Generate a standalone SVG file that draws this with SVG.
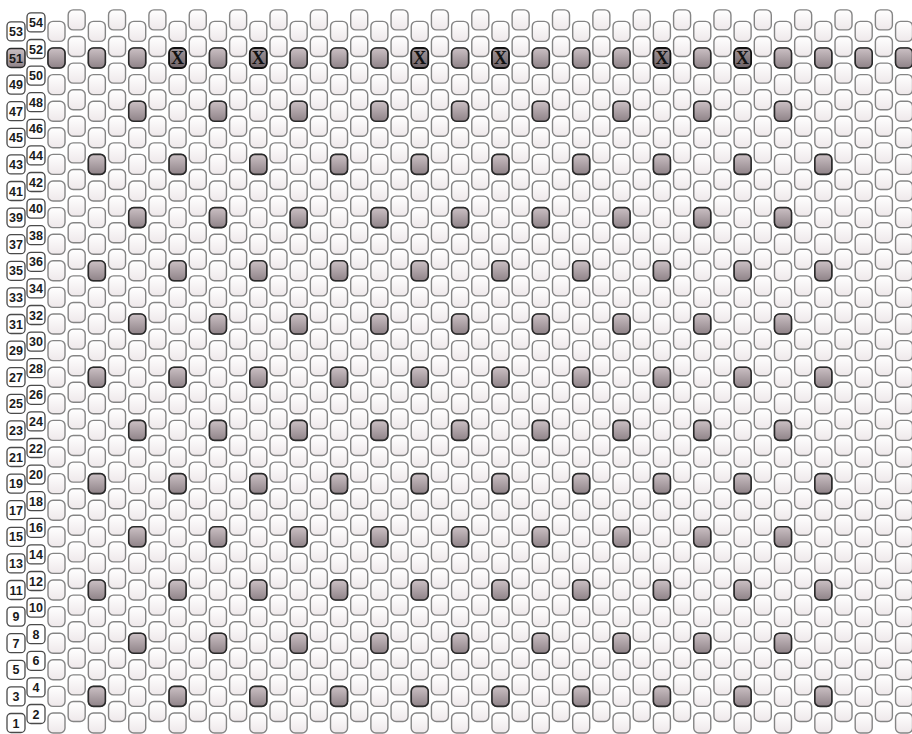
<svg xmlns="http://www.w3.org/2000/svg" xmlns:xlink="http://www.w3.org/1999/xlink" width="912" height="734" viewBox="0 0 912 734">
<style>
.bd{fill:url(#gl);stroke:#858585;stroke-width:1.4}
.dk{fill:url(#gd);stroke:#2a2a2a;stroke-width:1.6}
.xk{fill:url(#gx);stroke:#111;stroke-width:1.8}
.xt{font-family:"Liberation Serif","DejaVu Serif",serif;font-weight:bold;font-size:18px;fill:#111;text-anchor:middle}
.lb{fill:#fff;stroke:#4a4a4a;stroke-width:1.3}
.lbd{fill:url(#gd);stroke:#2a2a2a;stroke-width:1.5}
.lt{font-family:"Liberation Sans","DejaVu Sans",sans-serif;font-weight:bold;font-size:12.5px;fill:#1a1a1a;text-anchor:middle}
</style>
<defs>
<linearGradient id="gl" x1="0" y1="0" x2="0" y2="1"><stop offset="0" stop-color="#ffffff"/><stop offset="1" stop-color="#eee8ea"/></linearGradient>
<linearGradient id="gd" x1="0" y1="0" x2="0" y2="1"><stop offset="0" stop-color="#cbc0c4"/><stop offset="1" stop-color="#8f8388"/></linearGradient>
<linearGradient id="gx" x1="0" y1="0" x2="0" y2="1"><stop offset="0" stop-color="#a3989c"/><stop offset="1" stop-color="#6c6165"/></linearGradient>
<rect id="b" class="bd" x="-8.5" y="-10" width="17" height="20" rx="5"/>
<rect id="d" class="dk" x="-8.5" y="-10" width="17" height="20" rx="5"/>
<g id="x"><rect class="xk" x="-8.5" y="-10" width="17" height="20" rx="5"/><text class="xt" y="6.2">X</text></g>
<rect id="lbox" class="lb" x="-9" y="-9.5" width="18" height="19" rx="4"/>
<g id="col">
<use href="#b" y="0"/><use href="#b" y="26.6"/><use href="#b" y="53.2"/><use href="#b" y="79.8"/><use href="#b" y="106.4"/><use href="#b" y="133"/><use href="#b" y="159.6"/><use href="#b" y="186.2"/><use href="#b" y="212.8"/><use href="#b" y="239.4"/><use href="#b" y="266"/><use href="#b" y="292.6"/><use href="#b" y="319.2"/><use href="#b" y="345.8"/><use href="#b" y="372.4"/><use href="#b" y="399"/><use href="#b" y="425.6"/><use href="#b" y="452.2"/><use href="#b" y="478.8"/><use href="#b" y="505.4"/><use href="#b" y="532"/><use href="#b" y="558.6"/><use href="#b" y="585.2"/><use href="#b" y="611.8"/><use href="#b" y="638.4"/><use href="#b" y="665"/><use href="#b" y="691.6"/>
</g>
<g id="la">
<use href="#d" x="96.86"/><use href="#d" x="177.58"/><use href="#d" x="258.3"/><use href="#d" x="339.02"/><use href="#d" x="419.74"/><use href="#d" x="500.46"/><use href="#d" x="581.18"/><use href="#d" x="661.9"/><use href="#d" x="742.62"/><use href="#d" x="823.34"/>
</g>
<g id="lbr">
<use href="#d" x="137.22"/><use href="#d" x="217.94"/><use href="#d" x="298.66"/><use href="#d" x="379.38"/><use href="#d" x="460.1"/><use href="#d" x="540.82"/><use href="#d" x="621.54"/><use href="#d" x="702.26"/><use href="#d" x="782.98"/>
</g>
</defs>
<rect width="912" height="734" fill="#ffffff"/>

<g id="row-labels">
<g transform="translate(16,723)"><use href="#lbox"/><text class="lt" y="4.5">1</text></g>
<g transform="translate(16,696.4)"><use href="#lbox"/><text class="lt" y="4.5">3</text></g>
<g transform="translate(16,669.8)"><use href="#lbox"/><text class="lt" y="4.5">5</text></g>
<g transform="translate(16,643.2)"><use href="#lbox"/><text class="lt" y="4.5">7</text></g>
<g transform="translate(16,616.6)"><use href="#lbox"/><text class="lt" y="4.5">9</text></g>
<g transform="translate(16,590)"><use href="#lbox"/><text class="lt" y="4.5">11</text></g>
<g transform="translate(16,563.4)"><use href="#lbox"/><text class="lt" y="4.5">13</text></g>
<g transform="translate(16,536.8)"><use href="#lbox"/><text class="lt" y="4.5">15</text></g>
<g transform="translate(16,510.2)"><use href="#lbox"/><text class="lt" y="4.5">17</text></g>
<g transform="translate(16,483.6)"><use href="#lbox"/><text class="lt" y="4.5">19</text></g>
<g transform="translate(16,457)"><use href="#lbox"/><text class="lt" y="4.5">21</text></g>
<g transform="translate(16,430.4)"><use href="#lbox"/><text class="lt" y="4.5">23</text></g>
<g transform="translate(16,403.8)"><use href="#lbox"/><text class="lt" y="4.5">25</text></g>
<g transform="translate(16,377.2)"><use href="#lbox"/><text class="lt" y="4.5">27</text></g>
<g transform="translate(16,350.6)"><use href="#lbox"/><text class="lt" y="4.5">29</text></g>
<g transform="translate(16,324)"><use href="#lbox"/><text class="lt" y="4.5">31</text></g>
<g transform="translate(16,297.4)"><use href="#lbox"/><text class="lt" y="4.5">33</text></g>
<g transform="translate(16,270.8)"><use href="#lbox"/><text class="lt" y="4.5">35</text></g>
<g transform="translate(16,244.2)"><use href="#lbox"/><text class="lt" y="4.5">37</text></g>
<g transform="translate(16,217.6)"><use href="#lbox"/><text class="lt" y="4.5">39</text></g>
<g transform="translate(16,191)"><use href="#lbox"/><text class="lt" y="4.5">41</text></g>
<g transform="translate(16,164.4)"><use href="#lbox"/><text class="lt" y="4.5">43</text></g>
<g transform="translate(16,137.8)"><use href="#lbox"/><text class="lt" y="4.5">45</text></g>
<g transform="translate(16,111.2)"><use href="#lbox"/><text class="lt" y="4.5">47</text></g>
<g transform="translate(16,84.6)"><use href="#lbox"/><text class="lt" y="4.5">49</text></g>
<g transform="translate(16,58)"><rect class="lbd" x="-9" y="-9.5" width="18" height="19" rx="4"/><text class="lt" y="4.5">51</text></g>
<g transform="translate(16,31.4)"><use href="#lbox"/><text class="lt" y="4.5">53</text></g>
<g transform="translate(36,714)"><use href="#lbox"/><text class="lt" y="4.5">2</text></g>
<g transform="translate(36,687.4)"><use href="#lbox"/><text class="lt" y="4.5">4</text></g>
<g transform="translate(36,660.8)"><use href="#lbox"/><text class="lt" y="4.5">6</text></g>
<g transform="translate(36,634.2)"><use href="#lbox"/><text class="lt" y="4.5">8</text></g>
<g transform="translate(36,607.6)"><use href="#lbox"/><text class="lt" y="4.5">10</text></g>
<g transform="translate(36,581)"><use href="#lbox"/><text class="lt" y="4.5">12</text></g>
<g transform="translate(36,554.4)"><use href="#lbox"/><text class="lt" y="4.5">14</text></g>
<g transform="translate(36,527.8)"><use href="#lbox"/><text class="lt" y="4.5">16</text></g>
<g transform="translate(36,501.2)"><use href="#lbox"/><text class="lt" y="4.5">18</text></g>
<g transform="translate(36,474.6)"><use href="#lbox"/><text class="lt" y="4.5">20</text></g>
<g transform="translate(36,448)"><use href="#lbox"/><text class="lt" y="4.5">22</text></g>
<g transform="translate(36,421.4)"><use href="#lbox"/><text class="lt" y="4.5">24</text></g>
<g transform="translate(36,394.8)"><use href="#lbox"/><text class="lt" y="4.5">26</text></g>
<g transform="translate(36,368.2)"><use href="#lbox"/><text class="lt" y="4.5">28</text></g>
<g transform="translate(36,341.6)"><use href="#lbox"/><text class="lt" y="4.5">30</text></g>
<g transform="translate(36,315)"><use href="#lbox"/><text class="lt" y="4.5">32</text></g>
<g transform="translate(36,288.4)"><use href="#lbox"/><text class="lt" y="4.5">34</text></g>
<g transform="translate(36,261.8)"><use href="#lbox"/><text class="lt" y="4.5">36</text></g>
<g transform="translate(36,235.2)"><use href="#lbox"/><text class="lt" y="4.5">38</text></g>
<g transform="translate(36,208.6)"><use href="#lbox"/><text class="lt" y="4.5">40</text></g>
<g transform="translate(36,182)"><use href="#lbox"/><text class="lt" y="4.5">42</text></g>
<g transform="translate(36,155.4)"><use href="#lbox"/><text class="lt" y="4.5">44</text></g>
<g transform="translate(36,128.8)"><use href="#lbox"/><text class="lt" y="4.5">46</text></g>
<g transform="translate(36,102.2)"><use href="#lbox"/><text class="lt" y="4.5">48</text></g>
<g transform="translate(36,75.6)"><use href="#lbox"/><text class="lt" y="4.5">50</text></g>
<g transform="translate(36,49)"><use href="#lbox"/><text class="lt" y="4.5">52</text></g>
<g transform="translate(36,22.4)"><use href="#lbox"/><text class="lt" y="4.5">54</text></g>
</g>

<g id="bead-grid">
<use href="#col" x="56.5" y="31.4"/><use href="#col" x="76.68" y="19.9"/>
<use href="#col" x="96.86" y="31.4"/><use href="#col" x="117.04" y="19.9"/>
<use href="#col" x="137.22" y="31.4"/><use href="#col" x="157.4" y="19.9"/>
<use href="#col" x="177.58" y="31.4"/><use href="#col" x="197.76" y="19.9"/>
<use href="#col" x="217.94" y="31.4"/><use href="#col" x="238.12" y="19.9"/>
<use href="#col" x="258.3" y="31.4"/><use href="#col" x="278.48" y="19.9"/>
<use href="#col" x="298.66" y="31.4"/><use href="#col" x="318.84" y="19.9"/>
<use href="#col" x="339.02" y="31.4"/><use href="#col" x="359.2" y="19.9"/>
<use href="#col" x="379.38" y="31.4"/><use href="#col" x="399.56" y="19.9"/>
<use href="#col" x="419.74" y="31.4"/><use href="#col" x="439.92" y="19.9"/>
<use href="#col" x="460.1" y="31.4"/><use href="#col" x="480.28" y="19.9"/>
<use href="#col" x="500.46" y="31.4"/><use href="#col" x="520.64" y="19.9"/>
<use href="#col" x="540.82" y="31.4"/><use href="#col" x="561" y="19.9"/>
<use href="#col" x="581.18" y="31.4"/><use href="#col" x="601.36" y="19.9"/>
<use href="#col" x="621.54" y="31.4"/><use href="#col" x="641.72" y="19.9"/>
<use href="#col" x="661.9" y="31.4"/><use href="#col" x="682.08" y="19.9"/>
<use href="#col" x="702.26" y="31.4"/><use href="#col" x="722.44" y="19.9"/>
<use href="#col" x="742.62" y="31.4"/><use href="#col" x="762.8" y="19.9"/>
<use href="#col" x="782.98" y="31.4"/><use href="#col" x="803.16" y="19.9"/>
<use href="#col" x="823.34" y="31.4"/><use href="#col" x="843.52" y="19.9"/>
<use href="#col" x="863.7" y="31.4"/><use href="#col" x="883.88" y="19.9"/>
<use href="#col" x="904.06" y="31.4"/>
</g>

<g id="row-51" transform="translate(0,58)">
<use href="#d" x="56.5"/><use href="#d" x="96.86"/><use href="#d" x="137.22"/><use href="#x" x="177.58"/><use href="#d" x="217.94"/><use href="#x" x="258.3"/><use href="#d" x="298.66"/><use href="#d" x="339.02"/><use href="#d" x="379.38"/><use href="#x" x="419.74"/><use href="#d" x="460.1"/><use href="#x" x="500.46"/><use href="#d" x="540.82"/><use href="#d" x="581.18"/><use href="#d" x="621.54"/><use href="#x" x="661.9"/><use href="#d" x="702.26"/><use href="#x" x="742.62"/><use href="#d" x="782.98"/><use href="#d" x="823.34"/><use href="#d" x="863.7"/><use href="#d" x="904.06"/>
</g>

<g id="lattice">
<use href="#lbr" y="111.2"/>
<use href="#la" y="164.4"/>
<use href="#lbr" y="217.6"/>
<use href="#la" y="270.8"/>
<use href="#lbr" y="324"/>
<use href="#la" y="377.2"/>
<use href="#lbr" y="430.4"/>
<use href="#la" y="483.6"/>
<use href="#lbr" y="536.8"/>
<use href="#la" y="590"/>
<use href="#lbr" y="643.2"/>
<use href="#la" y="696.4"/>
</g>
</svg>
